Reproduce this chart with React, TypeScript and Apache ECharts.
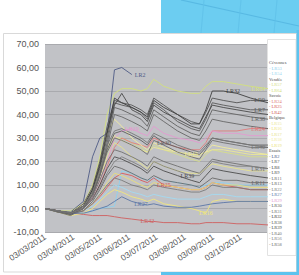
import React, { useEffect, useRef } from "react";
import * as echarts from "echarts";

// x positions: days since 03/03/2011
const days = [0, 14, 28, 42, 52, 60, 68, 76, 84, 95, 105, 112, 119, 130, 145, 160, 169, 176, 183, 195, 210, 225, 244];
const tickDays = [0, 31, 61, 92, 122, 153, 184, 214];
const tickLabels = ["03/03/2011", "03/04/2011", "03/05/2011", "03/06/2011", "03/07/2011", "03/08/2011", "03/09/2011", "03/10/2011"];

// Cévennes
const LR53 = [0, -1, -2, -2, -1, 0, 0.5, 1, 16, 15, 13, 12, 13, 12, 11, 10, 9, 10, 11, 11, 10, 10, 10];
const LR54 = [0, -1, -2, -1, 1, 4, 7, 10, 9, 7, 6, 5, 6, 5, 4, 4, 4, 5, 6, 6, 5, 5, 5];
// Vendée
const LR57 = [0, -1, -1.5, 1, 6, 14, 24, 30, 30, 28, 26, 24, 27, 25, 23, 21, 20, 23, 25, 24, 23, 22, 22];
const LR64 = [0, -1, -1, 2, 10, 22, 40, 49, 51, 51, 50, 51, 55, 52, 50, 49, 49, 52, 54, 54, 53, 52, 51];
// Savoie
const LR24 = [0, -1, -2, 0, 4, 10, 18, 26, 30, 28, 27, 26, 30, 28, 26, 25, 25, 28, 33, 33, 33, 34, 34];
const LR25 = [0, -1, -2, -1, 2, 5, 9, 13, 15, 14, 12, 11, 13, 10, 9, 8, 8, 9, 11, 10, 9, 8, 8];
const LR42 = [0, -1, -2, -2.5, -3, -3, -3, -3.5, -4, -4.5, -5, -5.5, -5.5, -6, -6, -6.5, -6.5, -6, -6, -6, -6.5, -6.5, -7];
// Belgique
const LR15 = [0, -1, -2, 1, 7, 16, 26, 31, 29, 27, 25, 24, 26, 25, 24, 23, 23, 24, 25, 25, 24, 23, 23];
const LR16 = [0, -1.5, -3, -2, 0, 3, 6, 8, 7, 5, 4, 3, 4, 2, 1, 0, -1, -2, 3, 4, 3, 3, 3];
const LR17 = [0, -1, -2, 0, 5, 12, 22, 28, 26, 22, 19, 17, 20, 18, 16, 15, 15, 17, 19, 18, 17, 16, 16];
const LR18 = [0, -1, -1.5, 2, 9, 20, 32, 38, 35, 30, 27, 25, 28, 26, 24, 22, 22, 24, 27, 26, 25, 24, 23];
const LR19 = [0, -1, -2, -1, 2, 6, 11, 15, 14, 12, 10, 9, 11, 10, 9, 8, 8, 9, 11, 10, 10, 9, 9];
// Essais
const LR2 = [0, -1, -1.5, 3, 22, 30, 32, 59, 60, 57];
const LR7 = [0, -1.5, -2.5, 1, 7, 17, 30, 45, 44, 43, 41, 38, 45, 42, 37, 34, 33, 38, 45, 44, 43, 42, 42];
const LR8 = [0, -1, -2, 1, 8, 19, 33, 44, 49, 42, 40, 37, 44, 41, 38, 35, 34, 39, 44, 43, 42, 41, 40];
const LR9 = [0, -1, -2, 2, 9, 20, 35, 46, 45, 44, 42, 40, 47, 44, 40, 37, 36, 41, 47, 46, 45, 46, 46];
const LR11 = [0, -1, -2.5, -1, 3, 8, 14, 18, 17, 15, 13, 12, 14, 12, 11, 10, 9, 11, 13, 12, 12, 11, 11];
const LR13 = [0, -1.5, -3, 0, 5, 14, 26, 40, 39, 37, 35, 33, 40, 37, 33, 30, 29, 33, 38, 37, 36, 35, 34];
const LR22 = [0, -1, -2, -1, 2, 6, 10, 13, 12, 10, 9, 8, 10, 9, 8, 7, 7, 8, 10, 9, 9, 8, 8];
const LR27 = [0, -1, -2, -2, -1, 0, 1, 3, 5, 3, 2, 1.5, 2, 1, 0.5, 0.5, 1, 1.5, 2, 2.5, 3, 3, 3];
const LR29 = [0, -1, -2, 0, 5, 12, 20, 30, 33, 34, 32, 31, 35, 32, 30, 29, 28, 30, 33, 32, 32, 31, 31];
const LR30 = [0, -1, -2, 0, 6, 14, 25, 32, 33, 31, 29, 27, 31, 28, 26, 24, 23, 26, 30, 29, 28, 27, 27];
const LR31 = [0, -1.5, -2, 0, 5, 12, 20, 25, 24, 22, 20, 18, 22, 20, 18, 16, 15, 18, 21, 20, 19, 18, 17];
const LR32 = [0, -1, -2, 1, 8, 18, 32, 47, 45, 43, 41, 39, 46, 43, 40, 36, 36, 42, 50, 50, 49, 47, 45];
const LR38 = [0, -1, -2.5, 0, 6, 15, 28, 43, 42, 40, 38, 35, 42, 39, 35, 32, 31, 36, 42, 41, 40, 39, 38];
const LR39 = [0, -1, -2, 0, 4, 10, 17, 22, 21, 19, 17, 15, 18, 16, 14, 12, 11, 14, 17, 16, 15, 14, 13];
const LR40 = [0, -1, -2, 1, 7, 16, 27, 33, 34, 32, 30, 28, 32, 30, 27, 25, 24, 27, 30, 29, 28, 27, 26];
const LR56 = [0, -1, -2, 0, 4, 9, 15, 20, 22, 20, 18, 16, 20, 18, 16, 14, 14, 17, 20, 19, 18, 18, 17];
const LR58 = [0, -1, -2, 1, 6, 14, 24, 30, 29, 27, 25, 23, 29, 27, 24, 22, 21, 25, 29, 28, 27, 26, 26];

type Item = { name: string; vals: number[]; color: string };
const groups: { header: string; items: Item[] }[] = [
  { header: "Cévennes", items: [
    { name: "LR53", vals: LR53, color: "#8fd0ee" },
    { name: "LR54", vals: LR54, color: "#a3daf2" },
  ] },
  { header: "Vendée", items: [
    { name: "LR57", vals: LR57, color: "#d6de8a" },
    { name: "LR64", vals: LR64, color: "#d2e07e" },
  ] },
  { header: "Savoie", items: [
    { name: "LR24", vals: LR24, color: "#e07a7a" },
    { name: "LR25", vals: LR25, color: "#d85a5a" },
    { name: "LR42", vals: LR42, color: "#cf6060" },
  ] },
  { header: "Belgique", items: [
    { name: "LR15", vals: LR15, color: "#ece894" },
    { name: "LR16", vals: LR16, color: "#f0e67e" },
    { name: "LR17", vals: LR17, color: "#e6e28c" },
    { name: "LR18", vals: LR18, color: "#f2ec9c" },
    { name: "LR19", vals: LR19, color: "#eadf7a" },
  ] },
  { header: "Essais", items: [
    { name: "LR2", vals: LR2, color: "#4f5b86" },
    { name: "LR7", vals: LR7, color: "#5a5a5a" },
    { name: "LR8", vals: LR8, color: "#4a4a4a" },
    { name: "LR9", vals: LR9, color: "#555555" },
    { name: "LR11", vals: LR11, color: "#6a6a6a" },
    { name: "LR13", vals: LR13, color: "#666666" },
    { name: "LR22", vals: LR22, color: "#7a7a7a" },
    { name: "LR27", vals: LR27, color: "#5b76a6" },
    { name: "LR29", vals: LR29, color: "#e39ad0" },
    { name: "LR30", vals: LR30, color: "#5e5e5e" },
    { name: "LR31", vals: LR31, color: "#707070" },
    { name: "LR32", vals: LR32, color: "#3e3e3e" },
    { name: "LR38", vals: LR38, color: "#626262" },
    { name: "LR39", vals: LR39, color: "#4d4d4d" },
    { name: "LR40", vals: LR40, color: "#777777" },
    { name: "LR56", vals: LR56, color: "#808080" },
    { name: "LR58", vals: LR58, color: "#6e6e6e" },
  ] },
];

// which point carries the series' data label, and where
const labelAt: Record<string, [number, string]> = {
  LR2: [9, "right"], LR9: [22, "left"], LR7: [22, "left"], LR38: [22, "left"],
  LR24: [22, "left"], LR40: [22, "left"], LR31: [22, "left"], LR11: [22, "left"],
  LR64: [22, "left"], LR32: [19, "right"], LR29: [9, "inside"], LR30: [13, "inside"],
  LR27: [10, "inside"], LR42: [11, "inside"], LR25: [13, "inside"], LR39: [14, "right"],
  LR15: [15, "inside"], LR16: [17, "inside"],
};

export default function App() {
  const ref = useRef<HTMLDivElement>(null);
  useEffect(() => {
    if (!ref.current) return;
    const chart = echarts.init(ref.current, null, { renderer: "svg" });
    const series: any[] = [];
    const legendData: any[] = [];
    const headers = new Set<string>();
    groups.forEach((g) => {
      headers.add(g.header);
      series.push({ name: g.header, type: "line", data: [], color: "transparent" });
      legendData.push({ name: g.header, textStyle: { color: "#4a4a4a" } });
      g.items.forEach((it) => {
        const lab = labelAt[it.name];
        const data = it.vals.map((v, i) => {
          if (lab && lab[0] === i) {
            return {
              value: [days[i], v],
              symbol: "circle",
              symbolSize: 0.01,
              label: {
                show: true,
                formatter: it.name,
                position: lab[1],
                distance: 3,
                color: it.color,
                fontSize: 6,
                fontFamily: "Liberation Serif",
              },
            };
          }
          return [days[i], v];
        });
        series.push({
          name: it.name,
          type: "line",
          data,
          color: it.color,
          symbol: "none",
          lineStyle: { width: 0.9, color: it.color },
          label: { show: false },
          emphasis: { disabled: true },
          z: 3,
        });
        legendData.push({ name: it.name, textStyle: { color: it.color } });
      });
    });

    chart.setOption({
      animation: false,
      backgroundColor: "#ffffff",
      grid: { left: 45, right: 31, top: 44, bottom: 43, show: true, backgroundColor: "#c1c2c6", borderWidth: 0 },
      xAxis: {
        type: "value",
        min: 0,
        max: 244,
        axisLine: { show: false },
        axisTick: { show: false },
        splitLine: { show: false },
        axisLabel: {
          customValues: tickDays,
          formatter: (v: number) => {
            const k = tickDays.indexOf(Math.round(v));
            return k >= 0 ? tickLabels[k] : "";
          },
          rotate: 33,
          fontSize: 8.5,
          color: "#555555",
          fontFamily: "Liberation Sans",
          margin: 4,
        },
      },
      yAxis: {
        type: "value",
        min: -10,
        max: 70,
        interval: 10,
        axisLine: { show: false },
        axisTick: { show: false },
        splitLine: { lineStyle: { color: "#a9aaae", width: 1 } },
        axisLabel: {
          formatter: (v: number) => v.toFixed(2).replace(".", ","),
          fontSize: 9,
          color: "#555555",
          fontFamily: "Liberation Sans",
          margin: 6,
        },
      },
      legend: {
        orient: "vertical",
        left: 263,
        top: 60,
        icon: "none",
        itemWidth: 1,
        itemHeight: 5,
        itemGap: 0.5,
        padding: 0,
        selectedMode: false,
        data: legendData,
        formatter: (name: string) => (headers.has(name) ? name : "- " + name),
        textStyle: { fontSize: 4.5, lineHeight: 5, fontFamily: "Liberation Serif" },
        z: 6,
      },
      graphic: [
        { type: "rect", shape: { x: 161, y: 0, width: 138, height: 33 }, style: { fill: "#6ccdf1" }, z: 1 },
        { type: "line", shape: { x1: 181, y1: 0, x2: 299, y2: 26 }, style: { stroke: "#58b9e3", lineWidth: 1.2 }, z: 1 },
        { type: "line", shape: { x1: 204, y1: 0, x2: 201, y2: 33 }, style: { stroke: "#5fc0e8", lineWidth: 0.8 }, z: 1 },
        { type: "line", shape: { x1: 241, y1: 0, x2: 238, y2: 33 }, style: { stroke: "#5fc0e8", lineWidth: 0.8 }, z: 1 },
        { type: "line", shape: { x1: 277, y1: 0, x2: 274, y2: 33 }, style: { stroke: "#5fc0e8", lineWidth: 0.8 }, z: 1 },
        { type: "rect", shape: { x: 3.5, y: 33.5, width: 293, height: 238.5 }, style: { fill: "none", stroke: "#d9d9d9", lineWidth: 1 }, z: 1 },
        { type: "rect", shape: { x: 296.5, y: 30, width: 2.5, height: 245 }, style: { fill: "#5cc3ee" }, z: 2 },
        { type: "rect", shape: { x: 161, y: 272, width: 138, height: 3 }, style: { fill: "#5cc3ee" }, z: 2 },
        { type: "rect", shape: { x: 267.5, y: 39.5, width: 28.5, height: 216 }, style: { fill: "#ffffff", stroke: "#e2e2e2", lineWidth: 1 }, z: 1 },
      ],
      series,
    });
    return () => chart.dispose();
  }, []);
  return <div ref={ref} style={{ position: "fixed", left: 0, top: 0, width: 299, height: 275 }} />;
}
